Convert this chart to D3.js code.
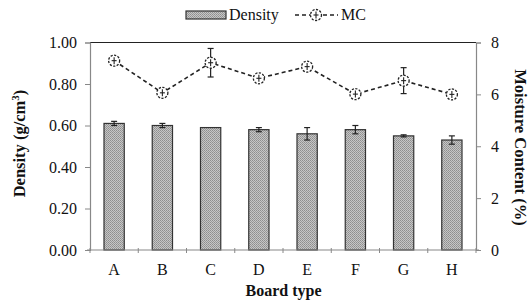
<!DOCTYPE html>
<html>
<head>
<meta charset="utf-8">
<script src="https://cdn.jsdelivr.net/npm/d3@7"></script>
<style>
body { margin: 0; background: #fff; }
text { font-family: "Liberation Serif", "Times New Roman", serif; fill: #111; }
</style>
</head>
<body>
<div id="chart"></div>
<script>
var w = 531,
	h = 304,
	padL = 90,
	padR = 476,
	padT = 42.5,
	padB = 250;

var boards = ['A', 'B', 'C', 'D', 'E', 'F', 'G', 'H'],
	density = [0.61, 0.60, 0.59, 0.58, 0.56, 0.58, 0.55, 0.53],
	densityErr = [0.01, 0.01, 0, 0.01, 0.03, 0.02, 0.005, 0.02],
	mc = [7.30, 6.06, 7.22, 6.62, 7.07, 6.01, 6.53, 6.00],
	mcErr = [0.1, 0.1, 0.55, 0.1, 0.1, 0.1, 0.5, 0.15],
	densityTicks = [0, 0.2, 0.4, 0.6, 0.8, 1.0],
	mcTicks = [0, 2, 4, 6, 8];

var svg = d3.select('#chart').append('svg')
	.attr('width', w)
	.attr('height', h);

// dotted grey fill of the bars
var pat = svg.append('defs').append('pattern')
	.attr('id', 'dots')
	.attr('width', 2)
	.attr('height', 2)
	.attr('patternUnits', 'userSpaceOnUse');
pat.append('rect').attr('width', 2).attr('height', 2).attr('fill', '#c6c6c6');
pat.append('rect').attr('width', 1).attr('height', 1).attr('fill', '#8e8e8e');
pat.append('rect').attr('x', 1).attr('y', 1).attr('width', 1).attr('height', 1).attr('fill', '#9a9a9a');

var x = d3.scaleBand().domain(boards).range([padL, padR]).paddingInner(0.58).paddingOuter(0.29);
var xb = d3.scaleBand().domain(boards).range([padL, padR]);
var y = d3.scaleLinear().domain([0, 1]).range([padB, padT]);
var y2 = d3.scaleLinear().domain([0, 8]).range([padB, padT]);

// top border
svg.append('line')
	.attr('x1', padL).attr('x2', padR)
	.attr('y1', padT).attr('y2', padT)
	.attr('stroke', '#222').attr('stroke-width', 1.2);

// bars
svg.selectAll('rect.bar')
	.data(density)
	.enter().append('rect')
	.attr('class', 'bar')
	.attr('x', function(d, i) { return x(boards[i]); })
	.attr('y', function(d) { return y(d); })
	.attr('width', x.bandwidth())
	.attr('height', function(d) { return padB - y(d); })
	.attr('fill', 'url(#dots)')
	.attr('stroke', '#333')
	.attr('stroke-width', 1.2);

function errBars(vals, errs, sc, cls) {
	var g = svg.append('g').attr('class', cls);
	vals.forEach(function(v, i) {
		if (!errs[i]) return;
		var cx = xb(boards[i]) + xb.bandwidth() / 2;
		var y1 = sc(v + errs[i]), y0 = sc(v - errs[i]);
		g.append('line').attr('x1', cx).attr('x2', cx).attr('y1', y1).attr('y2', y0)
			.attr('stroke', '#222').attr('stroke-width', 1.2);
		[y1, y0].forEach(function(yy) {
			g.append('line').attr('x1', cx - 3).attr('x2', cx + 3).attr('y1', yy).attr('y2', yy)
				.attr('stroke', '#222').attr('stroke-width', 1.2);
		});
	});
}
errBars(density, densityErr, y, 'derr');

// MC line
var line = d3.line()
	.x(function(d, i) { return xb(boards[i]) + xb.bandwidth() / 2; })
	.y(function(d) { return y2(d); });
svg.append('path')
	.datum(mc)
	.attr('d', line)
	.attr('fill', 'none')
	.attr('stroke', '#222')
	.attr('stroke-width', 1.6)
	.attr('stroke-dasharray', '4,3');

errBars(mc, mcErr, y2, 'mcerr');

function marker(g, cx, cy) {
	g.append('circle').attr('cx', cx).attr('cy', cy).attr('r', 5.5)
		.attr('fill', '#fff').attr('stroke', '#222').attr('stroke-width', 1.3)
		.attr('stroke-dasharray', '2.2,1.4');
	g.append('line').attr('x1', cx).attr('x2', cx).attr('y1', cy - 3.5).attr('y2', cy + 3.5)
		.attr('stroke', '#222').attr('stroke-width', 1.1);
	g.append('line').attr('x1', cx - 2.5).attr('x2', cx + 2.5).attr('y1', cy).attr('y2', cy)
		.attr('stroke', '#222').attr('stroke-width', 1.1);
}
var mg = svg.append('g');
mc.forEach(function(d, i) {
	marker(mg, xb(boards[i]) + xb.bandwidth() / 2, y2(d));
});

// axes
var axL = svg.append('g')
	.attr('transform', 'translate(' + padL + ',0)')
	.call(d3.axisLeft(y).tickValues(densityTicks).tickFormat(d3.format('.2f')).tickSize(5).tickPadding(8));
var axR = svg.append('g')
	.attr('transform', 'translate(' + padR + ',0)')
	.call(d3.axisRight(y2).tickValues(mcTicks).tickSize(5).tickPadding(10));
var axB = svg.append('g')
	.attr('transform', 'translate(0,' + padB + ')')
	.call(d3.axisBottom(xb).tickSize(0).tickPadding(14));
// x ticks at band edges
svg.append('g').selectAll('line')
	.data(boards.concat(['end']))
	.enter().append('line')
	.attr('x1', function(d, i) { return padL + i * xb.bandwidth(); })
	.attr('x2', function(d, i) { return padL + i * xb.bandwidth(); })
	.attr('y1', padB - 2).attr('y2', padB + 3)
	.attr('stroke', '#888');

[axL, axR, axB].forEach(function(a) {
	a.select('.domain').attr('stroke', '#888').attr('stroke-width', 1.2);
	a.selectAll('.tick line').attr('stroke', '#888');
	a.selectAll('.tick text').style('font-size', '16px').style('font-family', '"Liberation Serif", serif').attr('fill', '#111');
});
axB.select('.domain').attr('d', 'M' + (padL - 3) + ',0H' + (padR + 3));

// axis titles
var yt = svg.append('text')
	.attr('transform', 'translate(25,143.5) rotate(-90)')
	.attr('text-anchor', 'middle')
	.style('font-size', '16.5px').style('font-weight', 'bold');
yt.append('tspan').text('Density (g/cm');
yt.append('tspan').attr('dy', -6).style('font-size', '11px').text('3');
yt.append('tspan').attr('dy', 6).text(')');
svg.append('text')
	.attr('transform', 'translate(515,147.5) rotate(90)')
	.attr('text-anchor', 'middle')
	.style('font-size', '16.5px').style('font-weight', 'bold')
	.text('Moisture Content (%)');
svg.append('text')
	.attr('x', 283.5)
	.attr('y', 296)
	.attr('text-anchor', 'middle')
	.style('font-size', '16px').style('font-weight', 'bold')
	.text('Board type');

// legend
var lg = svg.append('g');
lg.append('rect').attr('x', 186).attr('y', 11).attr('width', 40).attr('height', 8)
	.attr('fill', 'url(#dots)').attr('stroke', '#333').attr('stroke-width', 1.2);
lg.append('text').attr('x', 229).attr('y', 20).style('font-size', '16px').text('Density');
lg.append('line').attr('x1', 295).attr('x2', 338).attr('y1', 15).attr('y2', 15)
	.attr('stroke', '#222').attr('stroke-width', 1.6).attr('stroke-dasharray', '4,3');
marker(lg, 316, 15);
lg.append('text').attr('x', 341).attr('y', 20).style('font-size', '16px').text('MC');
</script>
</body>
</html>
